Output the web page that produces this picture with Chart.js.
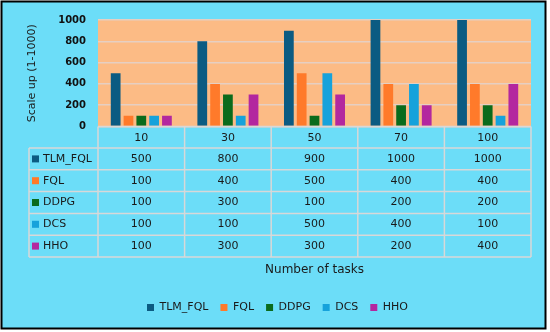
<!DOCTYPE html>
<html>
<head>
<meta charset="utf-8">
<script src="https://cdn.jsdelivr.net/npm/chart.js@4/dist/chart.umd.min.js"></script>
<style>
  html, body { margin: 0; padding: 0; background: #fff; }
  #wrap { width: 550px; height: 332px; }
</style>
</head>
<body>
<div id="wrap"><canvas id="chart" width="550" height="332"></canvas></div>
<script>
const tasks = ['10', '30', '50', '70', '100'];
const seriesNames = ['TLM_FQL', 'FQL', 'DDPG', 'DCS', 'HHO'];
const tlmFql = [500, 800, 900, 1000, 1000];
const fql = [100, 400, 500, 400, 400];
const ddpg = [100, 300, 100, 200, 200];
const dcs = [100, 100, 500, 400, 100];
const hho = [100, 300, 300, 200, 400];
const yTicks = [0, 200, 400, 600, 800, 1000];

const colors = ['#0B5B82', '#FF7A2A', '#0A6B1C', '#16A2DB', '#B3279F'];
const seriesValues = [tlmFql, fql, ddpg, dcs, hho];

const FONT = 'DejaVu Sans';
const BG = '#6CDDF8';
const LINE = '#D8D8D8';

// background, plot area and outer frame
const backdrop = {
  id: 'backdrop',
  beforeDraw(chart) {
    const { ctx, chartArea: a } = chart;
    ctx.save();
    ctx.fillStyle = '#fff';
    ctx.fillRect(0, 0, chart.width, chart.height);
    ctx.fillStyle = BG;
    ctx.fillRect(2, 2, 543, 326);
    ctx.fillStyle = '#FCBB85';
    ctx.fillRect(a.left, a.top, a.right - a.left, a.bottom - a.top);
    ctx.restore();
  },
  afterDraw(chart) {
    const { ctx } = chart;
    ctx.save();
    ctx.strokeStyle = '#000';
    ctx.lineWidth = 2;
    ctx.strokeRect(1.5, 1.5, 544, 327);
    ctx.restore();
  }
};

// data table under the plot
const dataTable = {
  id: 'dataTable',
  afterDraw(chart) {
    const { ctx, chartArea: a } = chart;
    const x = chart.scales.x;
    const top = a.bottom;
    const headH = 21.5;
    const rowH = 21.8;
    const tableLeft = 29;
    const colW = (a.right - a.left) / tasks.length;
    const bottom = top + headH + rowH * seriesNames.length;

    ctx.save();
    ctx.strokeStyle = LINE;
    ctx.lineWidth = 1.5;
    ctx.beginPath();
    ctx.moveTo(a.left, top);
    ctx.lineTo(a.right, top);
    for (let r = 0; r <= seriesNames.length; r++) {
      const y = top + headH + r * rowH;
      ctx.moveTo(tableLeft, y);
      ctx.lineTo(a.right, y);
    }
    for (let c = 0; c <= tasks.length; c++) {
      const xx = a.left + c * colW;
      ctx.moveTo(xx, top);
      ctx.lineTo(xx, bottom);
    }
    ctx.moveTo(tableLeft, top + headH);
    ctx.lineTo(tableLeft, bottom);
    ctx.stroke();

    ctx.font = '11px "' + FONT + '"';
    ctx.textBaseline = 'middle';
    seriesNames.forEach((name, r) => {
      const cy = top + headH + r * rowH + rowH / 2;
      ctx.fillStyle = colors[r];
      ctx.fillRect(32, cy - 3.5, 7, 7);
      ctx.fillStyle = '#1a1a1a';
      ctx.textAlign = 'left';
      ctx.fillText(name, 43, cy);
      ctx.textAlign = 'center';
      seriesValues[r].forEach((v, c) => {
        ctx.fillText(String(v), x.getPixelForValue(c), cy);
      });
    });
    ctx.restore();
  }
};

new Chart(document.getElementById('chart'), {
  type: 'bar',
  data: {
    labels: tasks,
    datasets: seriesNames.map((name, i) => ({
      label: name,
      data: seriesValues[i],
      backgroundColor: colors[i],
      categoryPercentage: 0.74,
      barPercentage: 0.76
    }))
  },
  options: {
    responsive: false,
    animation: false,
    devicePixelRatio: 1,
    layout: { padding: { left: 24, right: 19, top: 20, bottom: 9 } },
    plugins: {
      legend: {
        position: 'bottom',
        labels: {
          boxWidth: 7,
          boxHeight: 7,
          padding: 12,
          color: '#1a1a1a',
          font: { family: FONT, size: 11 }
        }
      },
      tooltip: { enabled: false }
    },
    scales: {
      x: {
        grid: { display: false, drawTicks: false },
        border: { display: false },
        ticks: {
          color: '#1a1a1a',
          padding: 5,
          font: { family: FONT, size: 11 }
        },
        title: {
          display: true,
          text: 'Number of tasks',
          color: '#1a1a1a',
          font: { family: FONT, size: 12 },
          padding: { top: 0, bottom: 13 }
        },
        afterFit(scale) { scale.height = 163.5; }
      },
      y: {
        min: 0,
        max: 1000,
        afterBuildTicks(scale) { scale.ticks = yTicks.map(v => ({ value: v })); },
        grid: { color: '#E6CFC2', lineWidth: 1.5, drawTicks: false },
        border: { display: false },
        ticks: {
          color: '#111',
          padding: 12,
          font: { family: FONT, size: 10, weight: 'bold' },
          callback: v => String(v)
        },
        title: {
          display: true,
          text: 'Scale up (1-1000)',
          color: '#1a1a1a',
          font: { family: FONT, size: 11 },
          padding: { top: 2, bottom: 0 }
        },
        afterFit(scale) { scale.width = 74; }
      }
    }
  },
  plugins: [backdrop, dataTable]
});
</script>
</body>
</html>
